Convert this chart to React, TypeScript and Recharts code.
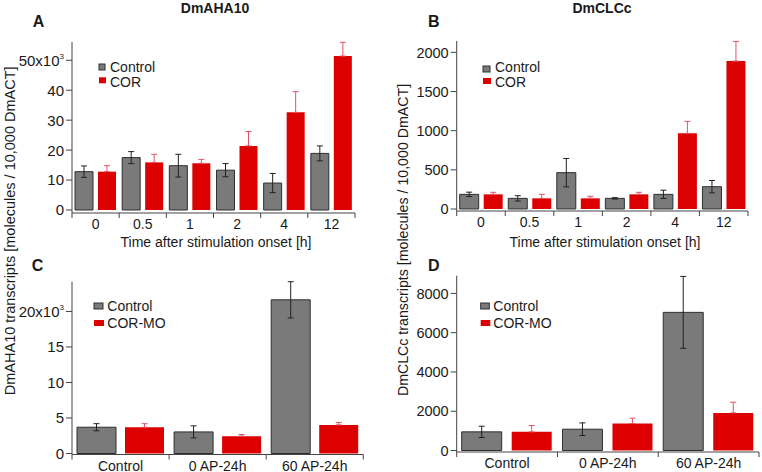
import React from 'react';
import { BarChart, Bar, XAxis, YAxis, ErrorBar } from 'recharts';

// ---------- data ----------
const timeCategories = ['0', '0.5', '1', '2', '4', '12'];
const aha10Control = [12.8, 17.5, 14.8, 13.3, 9.0, 18.9];
const aha10ControlErr = [1.9, 2.0, 3.8, 2.2, 3.2, 2.5];
const aha10Cor = [12.8, 15.9, 15.6, 21.4, 32.6, 51.4];
const aha10CorErr = [2.0, 2.7, 1.3, 4.8, 6.9, 4.6];

const clccControl = [187, 136, 464, 136, 187, 285];
const clccControlErr = [28, 34, 181, 9, 53, 79];
const clccCor = [187, 136, 136, 187, 966, 1889];
const clccCorErr = [26, 51, 26, 26, 153, 251];

const moCategories = ['Control', '0 AP-24h', '60 AP-24h'];
const aha10MoControl = [3.7, 3.04, 21.64];
const aha10MoControlErr = [0.5, 0.85, 2.55];
const aha10Mo = [3.7, 2.44, 4.03];
const aha10MoErr = [0.5, 0.23, 0.33];

const clccMoControl = [949, 1085, 7034];
const clccMoControlErr = [288, 322, 1830];
const clccMo = [949, 1373, 1915];
const clccMoErr = [322, 271, 543];

const ticksA = [0, 10, 20, 30, 40, 50];
const ticksB = [0, 500, 1000, 1500, 2000];
const ticksC = [0, 5, 10, 15, 20];
const ticksD = [0, 2000, 4000, 6000, 8000];

const build = (cats: string[], a: number[], ae: number[], b: number[], be: number[]) =>
  cats.map((c, i) => ({ cat: c, ctl: a[i], ctlErr: [ae[i], ae[i]], trt: b[i], trtErr: [0, be[i]] }));

const dataA = build(timeCategories, aha10Control, aha10ControlErr, aha10Cor, aha10CorErr);
const dataB = build(timeCategories, clccControl, clccControlErr, clccCor, clccCorErr);
const dataC = build(moCategories, aha10MoControl, aha10MoControlErr, aha10Mo, aha10MoErr);
const dataD = build(moCategories, clccMoControl, clccMoControlErr, clccMo, clccMoErr);

// ---------- styles ----------
const FONT = '"Liberation Sans", Arial, sans-serif';
const AXIS = '#444';
const TXT = '#1a1a1a';
const GRAY = '#7a7a7a';
const GRAY_STROKE = '#2e2e2e';
const RED = '#dc0000';
const RED_ERR = '#dd5566';

const makeYTick = (supValue: number | null, base: string, fs: number) => (props: any) => {
  const { x, y, payload } = props;
  const v = payload.value;
  return (
    <text x={x} y={y + fs * 0.36} textAnchor="end" fontSize={fs} fill={TXT} fontFamily={FONT}>
      {v === supValue ? (
        <>
          {base}
          <tspan fontSize={8} dy={-7}>3</tspan>
        </>
      ) : (
        v
      )}
    </text>
  );
};

const makeXTick = (half: number, count: number) => (props: any) => {
  const { x, y, payload, index } = props;
  return (
    <g>
      <line x1={x - half} x2={x - half} y1={y} y2={y + 5} stroke={AXIS} />
      {index === count - 1 && <line x1={x + half} x2={x + half} y1={y} y2={y + 5} stroke={AXIS} />}
      <text x={x} y={y + 16} textAnchor="middle" fontSize={14} fill={TXT} fontFamily={FONT}>
        {payload.value}
      </text>
    </g>
  );
};

type PanelProps = {
  left: number;
  top: number;
  width: number;
  height: number;
  data: any[];
  margin: { top: number; right: number; bottom: number; left: number };
  domainMax: number;
  ticks: number[];
  padBottom: number;
  barSize: number;
  barGap: number;
  supValue: number | null;
  supBase: string;
  tickFont: number;
};

function Panel(p: PanelProps) {
  const yAxisWidth = 60;
  const plotW = p.width - p.margin.left - p.margin.right - yAxisWidth;
  const half = plotW / p.data.length / 2;
  return (
    <div style={{ position: 'absolute', left: p.left, top: p.top }}>
      <BarChart
        width={p.width}
        height={p.height}
        data={p.data}
        margin={p.margin}
        barSize={p.barSize}
        barGap={p.barGap}
      >
        <XAxis
          dataKey="cat"
          height={16}
          interval={0}
          tickSize={0}
          tickMargin={0}
          tickLine={false}
          axisLine={{ stroke: AXIS }}
          tick={makeXTick(half, p.data.length)}
        />
        <YAxis
          type="number"
          width={yAxisWidth}
          domain={[0, p.domainMax]}
          ticks={p.ticks}
          interval={0}
          tickSize={6}
          tickMargin={2}
          padding={{ top: 0, bottom: p.padBottom }}
          axisLine={{ stroke: AXIS }}
          tickLine={{ stroke: AXIS }}
          tick={makeYTick(p.supValue, p.supBase, p.tickFont)}
        />
        <Bar dataKey="ctl" fill={GRAY} stroke={GRAY_STROKE} strokeWidth={1} isAnimationActive={false}>
          <ErrorBar dataKey="ctlErr" width={3} stroke="#222" strokeWidth={1} direction="y" />
        </Bar>
        <Bar dataKey="trt" fill={RED} isAnimationActive={false}>
          <ErrorBar dataKey="trtErr" width={3} stroke={RED_ERR} strokeWidth={1} direction="y" />
        </Bar>
      </BarChart>
    </div>
  );
}

function LegendBox({ x, y1, y2, textX, b1, b2, w, name2 }: any) {
  return (
    <g fontFamily={FONT} fontSize={14} fill={TXT}>
      <rect x={x} y={y1} width={w} height={6} fill={GRAY} stroke={GRAY_STROKE} strokeWidth={1} />
      <rect x={x} y={y2} width={w + 1} height={6} fill={RED} />
      <text x={textX} y={b1}>Control</text>
      <text x={textX} y={b2}>{name2}</text>
    </g>
  );
}

export default function App() {
  return (
    <div style={{ position: 'absolute', left: 0, top: 0, width: 762, height: 472, background: '#fff', overflow: 'hidden' }}>
      <Panel
        left={0}
        top={0}
        width={380}
        height={240}
        data={dataA}
        margin={{ top: 42, right: 25, bottom: 11, left: 12 }}
        domainMax={56.1}
        ticks={ticksA}
        padBottom={3}
        barSize={18}
        barGap={5}
        supValue={50}
        supBase="50x10"
        tickFont={15}
      />
      <Panel
        left={380}
        top={0}
        width={382}
        height={240}
        data={dataB}
        margin={{ top: 41, right: 14, bottom: 13, left: 16.7 }}
        domainMax={2145}
        ticks={ticksB}
        padBottom={2}
        barSize={19}
        barGap={5}
        supValue={null}
        supBase=""
        tickFont={14.5}
      />
      <Panel
        left={0}
        top={235}
        width={380}
        height={237}
        data={dataC}
        margin={{ top: 46.7, right: 16.7, bottom: 1.5, left: 12 }}
        domainMax={24.14}
        ticks={ticksC}
        padBottom={1}
        barSize={39}
        barGap={9}
        supValue={20}
        supBase="20x10"
        tickFont={15}
      />
      <Panel
        left={380}
        top={235}
        width={382}
        height={237}
        data={dataD}
        margin={{ top: 40.7, right: 3, bottom: 4, left: 16.7 }}
        domainMax={8900}
        ticks={ticksD}
        padBottom={1.5}
        barSize={40}
        barGap={10}
        supValue={null}
        supBase=""
        tickFont={14.5}
      />
      <svg
        width={762}
        height={472}
        style={{ position: 'absolute', left: 0, top: 0, pointerEvents: 'none' }}
      >
        <g fontFamily={FONT} fill={TXT}>
          <text x={215} y={12.7} textAnchor="middle" fontSize={14} fontWeight="bold">DmAHA10</text>
          <text x={602} y={12.7} textAnchor="middle" fontSize={14} fontWeight="bold">DmCLCc</text>
          <text x={32.7} y={26.7} fontSize={16} fontWeight="bold">A</text>
          <text x={428} y={26.7} fontSize={16} fontWeight="bold">B</text>
          <text x={31.7} y={271} fontSize={16} fontWeight="bold">C</text>
          <text x={428} y={271} fontSize={16} fontWeight="bold">D</text>
          <text x={216} y={246.5} textAnchor="middle" fontSize={14}>Time after stimulation onset [h]</text>
          <text x={605} y={246.5} textAnchor="middle" fontSize={14}>Time after stimulation onset [h]</text>
          <text
            x={0}
            y={0}
            fontSize={14.5}
            textAnchor="middle"
            transform="translate(14.5,230.8) rotate(-90)"
          >
            DmAHA10 transcripts [molecules / 10,000 DmACT]
          </text>
          <text
            x={0}
            y={0}
            fontSize={14.2}
            textAnchor="middle"
            transform="translate(408,240) rotate(-90)"
          >
            DmCLCc transcripts [molecules / 10,000 DmACT]
          </text>
        </g>
        <LegendBox x={99} y1={64} y2={77.3} w={6} textX={110} b1={71.7} b2={86.7} name2="COR" />
        <LegendBox x={483} y1={66} y2={78} w={7} textX={495} b1={71.7} b2={86.7} name2="COR" />
        <LegendBox x={94} y1={303} y2={320} w={9} textX={107.3} b1={311} b2={327.7} name2="COR-MO" />
        <LegendBox x={480.7} y1={303} y2={320} w={8.6} textX={493.3} b1={311} b2={327.7} name2="COR-MO" />
      </svg>
    </div>
  );
}
